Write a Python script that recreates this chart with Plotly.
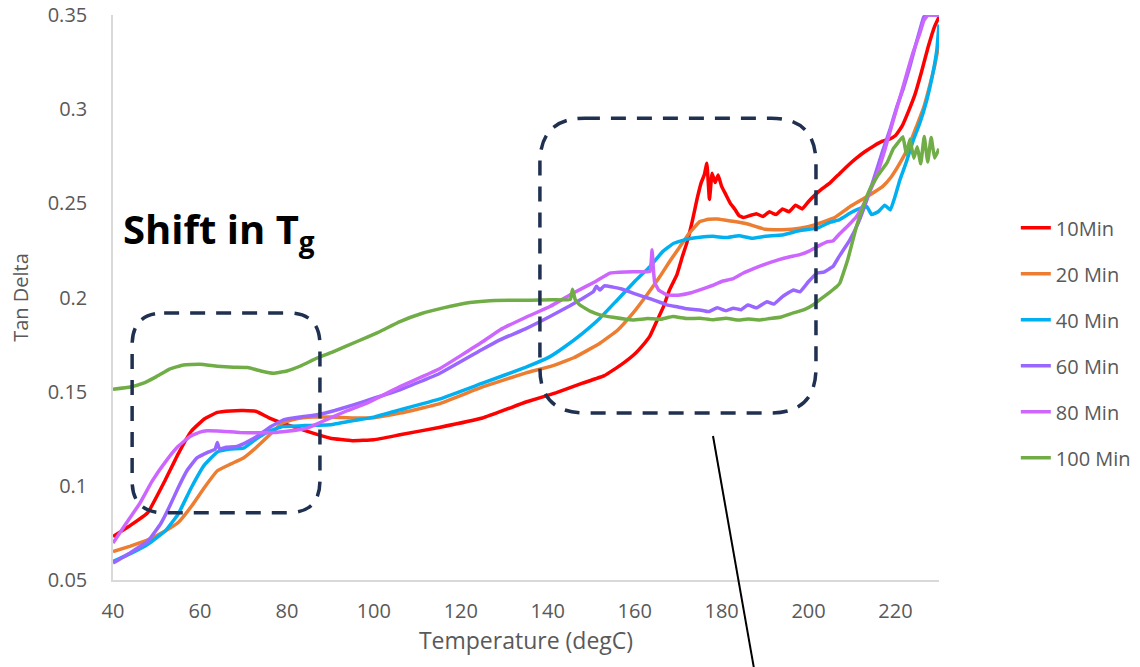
import plotly.graph_objects as go

# ---------------- data ----------------
t_10 = [40, 44, 48, 52, 55, 58, 61, 64, 67, 70, 73, 76, 79, 82, 86, 90, 95, 100, 106, 115, 125, 135, 142, 148,
        153, 157, 160, 162, 163.5, 165, 166.6, 168, 169.7, 171, 172, 173.2, 174.3, 175.3, 176, 176.6, 177.2,
        177.8, 178.5, 179.2, 180, 181, 182, 183, 184, 185, 186.5, 188, 189.5, 191, 192.5, 194, 195.5, 197,
        198.5, 200, 201.5, 203, 205, 207, 209, 211, 213, 215, 217, 218.5, 220, 221.5, 223, 224.5, 226,
        227.5, 229, 230]
y_10 = [0.0731, 0.079, 0.0858, 0.103, 0.117, 0.129, 0.1355, 0.139, 0.1398, 0.14, 0.1395, 0.136, 0.1333, 0.131,
        0.128, 0.1253, 0.124, 0.1245, 0.1271, 0.131, 0.136, 0.1445, 0.1495, 0.1545, 0.1585, 0.1645, 0.170,
        0.175, 0.1795, 0.187, 0.195, 0.204, 0.212, 0.222, 0.229, 0.240, 0.2518, 0.261, 0.2650, 0.2713,
        0.2520, 0.2660, 0.2610, 0.2650, 0.2590, 0.2545, 0.2500, 0.2470, 0.2435, 0.2425, 0.2435, 0.2445,
        0.2430, 0.2455, 0.2440, 0.2470, 0.2455, 0.2490, 0.2470, 0.2510, 0.2545, 0.2575, 0.2610, 0.2655,
        0.2700, 0.2740, 0.2775, 0.2805, 0.2830, 0.2840, 0.2860, 0.2910, 0.2990, 0.3080, 0.3200, 0.3330,
        0.3440, 0.3490]

t_20 = [40, 44, 48, 52, 55, 58, 61, 64, 67, 70, 73, 76, 79, 82, 86, 90, 95, 100, 106, 115, 125, 135, 140.5, 146,
        152, 156, 159.6, 163, 165.8, 168, 170.4, 172.5, 175, 177, 179, 181, 183, 186, 190, 194, 198, 202, 206,
        209.5, 213, 217, 219, 221, 223, 224.8, 226.5, 228, 229, 230]
y_20 = [0.0651, 0.068, 0.0713, 0.076, 0.0805, 0.089, 0.099, 0.108, 0.1115, 0.1148, 0.1205, 0.127, 0.1335,
        0.1355, 0.1365, 0.1365, 0.136, 0.1362, 0.1386, 0.1435, 0.1525, 0.160, 0.1633, 0.168, 0.1757, 0.1825,
        0.1917, 0.202, 0.2111, 0.219, 0.227, 0.234, 0.2403, 0.2415, 0.2417, 0.2410, 0.2403, 0.2390, 0.2362,
        0.2360, 0.2368, 0.2390, 0.2425, 0.2482, 0.2530, 0.2589, 0.2640, 0.2713, 0.2800, 0.2907, 0.3010,
        0.3137, 0.3230, 0.3350]

t_40 = [40, 44, 48, 52, 55, 58, 61, 64, 67, 70, 73, 76, 79, 84, 90, 95, 100, 106, 115, 125, 135, 140.5, 144, 148,
        152, 156, 160, 163.5, 166.5, 169, 172, 175, 178, 181, 184, 187, 190, 194, 198, 202, 205, 207, 209.5,
        211, 213.4, 214.5, 216, 217.5, 218.8, 220, 221, 222.5, 224.1, 225.5, 227.2, 228.5, 229.5, 230]
y_40 = [0.0598, 0.064, 0.069, 0.076, 0.085, 0.099, 0.111, 0.118, 0.1195, 0.12, 0.125, 0.129, 0.1315, 0.132,
        0.1324, 0.1345, 0.1365, 0.1403, 0.146, 0.1545, 0.163, 0.1686, 0.174, 0.181, 0.189, 0.1987, 0.2085,
        0.2164, 0.2245, 0.2288, 0.231, 0.232, 0.2325, 0.2318, 0.2328, 0.2315, 0.2325, 0.2332, 0.2355, 0.2368,
        0.2400, 0.2412, 0.2447, 0.2465, 0.2482, 0.2440, 0.2455, 0.2490, 0.2465, 0.2545, 0.2624, 0.2720,
        0.2836, 0.2920, 0.3049, 0.3180, 0.3314, 0.3450]

t_60 = [40, 44, 48, 51, 53, 55, 57, 59.3, 62, 63.5, 64, 64.5, 66, 68.5, 71, 73.1, 76, 79.2, 83, 86.9, 91, 95.3,
        100, 106, 115, 125, 129, 135, 140.5, 145, 148, 150.5, 151.2, 152, 153, 155, 157, 159.6, 162, 164,
        167.4, 170, 172, 175, 177, 179, 181, 182.7, 184.5, 186, 188, 190.4, 192, 194, 196.5, 198, 200, 201.9,
        203.5, 205.6, 207, 209.5, 211.5, 213.4, 215, 217.1, 218.7, 220.3, 221.8, 223.3, 224.5, 225.6, 226.5,
        227.5, 229, 230]
y_60 = [0.059, 0.0645, 0.0705, 0.080, 0.089, 0.099, 0.108, 0.1148, 0.118, 0.1195, 0.123, 0.1195, 0.1205,
        0.1209, 0.1235, 0.1262, 0.131, 0.135, 0.1365, 0.1377, 0.140, 0.143, 0.1465, 0.151, 0.1595, 0.1725,
        0.1775, 0.1835, 0.1899, 0.1955, 0.1995, 0.2031, 0.2060, 0.2040, 0.2062, 0.2055, 0.2045, 0.2023,
        0.2005, 0.1990, 0.1961, 0.1950, 0.1940, 0.1934, 0.1925, 0.1945, 0.1930, 0.1943, 0.1935, 0.1960,
        0.1945, 0.1978, 0.1965, 0.2005, 0.2040, 0.2030, 0.2085, 0.2129, 0.2135, 0.2164, 0.2217, 0.2306,
        0.2400, 0.2518, 0.2630, 0.2783, 0.2890, 0.3013, 0.3110, 0.3226, 0.3330, 0.3420, 0.3490, 0.3500,
        0.3500, 0.3500]

t_80 = [40, 43, 46.2, 49, 52.4, 55, 57.7, 60, 61.6, 65, 69.2, 73, 76.9, 80, 84.6, 87.5, 90.7, 94, 98.4, 102, 106,
        115, 125, 129, 135, 140.5, 146, 151, 154.3, 158, 161, 163.5, 164.0, 164.3, 164.6, 165.5, 167.4, 170,
        173, 175, 178, 180, 182.7, 185, 187.5, 190.4, 193, 195.5, 198, 200, 202, 204.2, 205.6, 207, 209, 211,
        213, 215.6, 217.5, 219.5, 221, 222.6, 224, 225.6, 226.5, 227.5, 229, 230]
y_80 = [0.0696, 0.080, 0.0908, 0.1025, 0.1138, 0.121, 0.1262, 0.1285, 0.1292, 0.129, 0.1283, 0.1282, 0.1283,
        0.129, 0.1306, 0.1335, 0.1368, 0.140, 0.1439, 0.148, 0.1527, 0.162, 0.1765, 0.1828, 0.1895, 0.1952,
        0.2025, 0.2085, 0.2129, 0.2135, 0.2137, 0.2138, 0.2253, 0.2150, 0.2080, 0.2040, 0.2014, 0.2012,
        0.2025, 0.2040, 0.2065, 0.2085, 0.2100, 0.2130, 0.2155, 0.2180, 0.2200, 0.2215, 0.2228, 0.2245,
        0.2270, 0.2295, 0.2300, 0.2335, 0.2380, 0.2429, 0.2510, 0.2642, 0.2780, 0.2943, 0.3060, 0.3190,
        0.3300, 0.3403, 0.3470, 0.3500, 0.3500, 0.3500]

t_100 = [40, 44, 47, 50, 53, 56.2, 60, 64, 67.7, 71, 74, 76.9, 80, 83, 86.9, 91, 96, 101, 106, 111, 116, 121, 126,
         131, 136, 141, 145.2, 145.7, 146.3, 147.4, 150, 152, 155, 159.6, 163, 166, 168.8, 172, 175, 178, 181,
         184, 186, 188.8, 191, 193.5, 196.5, 199, 201, 203, 205, 206.5, 207.2, 209, 211, 212.5, 214.1, 216,
         218, 219.5, 220.5, 221.7, 222.5, 223.3, 224.2, 225, 225.8, 226.6, 227.4, 228.2, 229, 230]
y_100 = [0.1513, 0.1525, 0.1545, 0.158, 0.162, 0.1642, 0.1645, 0.1635, 0.163, 0.1628, 0.161, 0.1598, 0.161,
         0.1635, 0.1678, 0.1715, 0.1765, 0.1815, 0.1872, 0.1915, 0.1945, 0.197, 0.1982, 0.1985, 0.1985,
         0.1988, 0.1990, 0.2044, 0.1990, 0.1960, 0.1925, 0.1908, 0.1895, 0.1881, 0.1888, 0.1885, 0.1899,
         0.1888, 0.1890, 0.1882, 0.1890, 0.1880, 0.1886, 0.1881, 0.1888, 0.1895, 0.1918, 0.1935, 0.1960,
         0.1995, 0.2030, 0.2058, 0.2077, 0.2200, 0.2376, 0.2480, 0.2575, 0.2650, 0.2713, 0.2790, 0.2820,
         0.2854, 0.2760, 0.2840, 0.2740, 0.2800, 0.2710, 0.2855, 0.2720, 0.2850, 0.2740, 0.2790]

series_names = ["10Min", "20 Min", "40 Min", "60 Min", "80 Min", "100 Min"]
series_t = [t_10, t_20, t_40, t_60, t_80, t_100]
series_y = [y_10, y_20, y_40, y_60, y_80, y_100]
colors = ["#FF0000", "#ED7D31", "#00B0F0", "#9966FF", "#CC66FF", "#70AD47"]

x_ticks = [40, 60, 80, 100, 120, 140, 160, 180, 200, 220]
y_ticks = [0.05, 0.1, 0.15, 0.2, 0.25, 0.3, 0.35]
y_ticktext = ["0.05", "0.1", "0.15", "0.2", "0.25", "0.3", "0.35"]

# ---------------- layout geometry ----------------
W, H = 1140, 667
ML, MR, MT, MB = 113, 201, 15, 87
XR = [40, 230]
YR = [0.05, 0.35]
px_x = (W - ML - MR) / (XR[1] - XR[0])
px_y = (H - MT - MB) / (YR[1] - YR[0])

fig = go.Figure()
for i, (name, t, y, c) in enumerate(zip(series_names, series_t, series_y, colors)):
    fig.add_trace(go.Scatter(x=t, y=y, mode="lines", name=name, legendgroup=name,
                             line=dict(color=c, width=3.5, shape="spline", smoothing=0.3)))


def rounded_rect(x0, x1, y0, y1, rpx):
    rx = rpx / px_x
    ry = rpx / px_y
    return (f"M {x0+rx},{y1} L {x1-rx},{y1} Q {x1},{y1} {x1},{y1-ry} "
            f"L {x1},{y0+ry} Q {x1},{y0} {x1-rx},{y0} L {x0+rx},{y0} "
            f"Q {x0},{y0} {x0},{y0+ry} L {x0},{y1-ry} Q {x0},{y1} {x0+rx},{y1} Z")


box_line = dict(color="#1F3050", width=3.5, dash="15px,11px")
fig.add_shape(type="path", xref="x", yref="y", path=rounded_rect(44.4, 87.6, 0.0857, 0.1918, 32),
              line=box_line)
fig.add_shape(type="path", xref="x", yref="y", path=rounded_rect(138.2, 201.7, 0.1387, 0.2952, 45),
              line=box_line)
fig.add_shape(type="line", xref="paper", yref="paper", x0=0.7264, y0=0.2549, x1=0.7785, y1=-0.177,
              line=dict(color="#000000", width=2))

fig.add_annotation(xref="paper", yref="paper", x=0.0097, y=0.619, xanchor="left", yanchor="middle",
                   text="<b>Shift in T<sub>g</sub></b>", showarrow=False,
                   font=dict(family="Open Sans", size=40, color="#000000"))

axis_font = dict(family="Open Sans", size=20, color="#595959")
fig.update_layout(
    width=W, height=H,
    margin=dict(l=ML, r=MR, t=MT, b=MB, autoexpand=False),
    paper_bgcolor="white", plot_bgcolor="white",
    font=dict(family="Open Sans", color="#595959"),
    showlegend=True,
    legend=dict(x=1.093, xanchor="left", y=0.42, yanchor="middle", tracegroupgap=17,
                font=dict(family="Open Sans", size=20, color="#595959"), bgcolor="rgba(0,0,0,0)"),
    xaxis=dict(range=XR, tickvals=x_ticks, showgrid=False, zeroline=False, showline=True,
               linecolor="#D9D9D9", linewidth=1.5, ticks="", tickfont=axis_font, ticklabelstandoff=12,
               automargin=False, ticklabeloverflow="allow",
               title=dict(text="Temperature (degC)", font=dict(family="Open Sans", size=23, color="#595959"),
                          standoff=10)),
    yaxis=dict(range=YR, tickvals=y_ticks, ticktext=y_ticktext, showgrid=False, zeroline=False,
               showline=True, linecolor="#D9D9D9", linewidth=1.5, ticks="", tickfont=axis_font,
               ticklabelstandoff=20, automargin=False, ticklabeloverflow="allow",
               title=dict(text="Tan Delta", font=dict(family="Open Sans", size=20, color="#595959"),
                          standoff=14)),
)

# remove the page's default 8px body margin so the figure fills the window exactly
fig.write_html("out.html", config={"displayModeBar": False},
               post_script="document.body.style.margin='0px';")
